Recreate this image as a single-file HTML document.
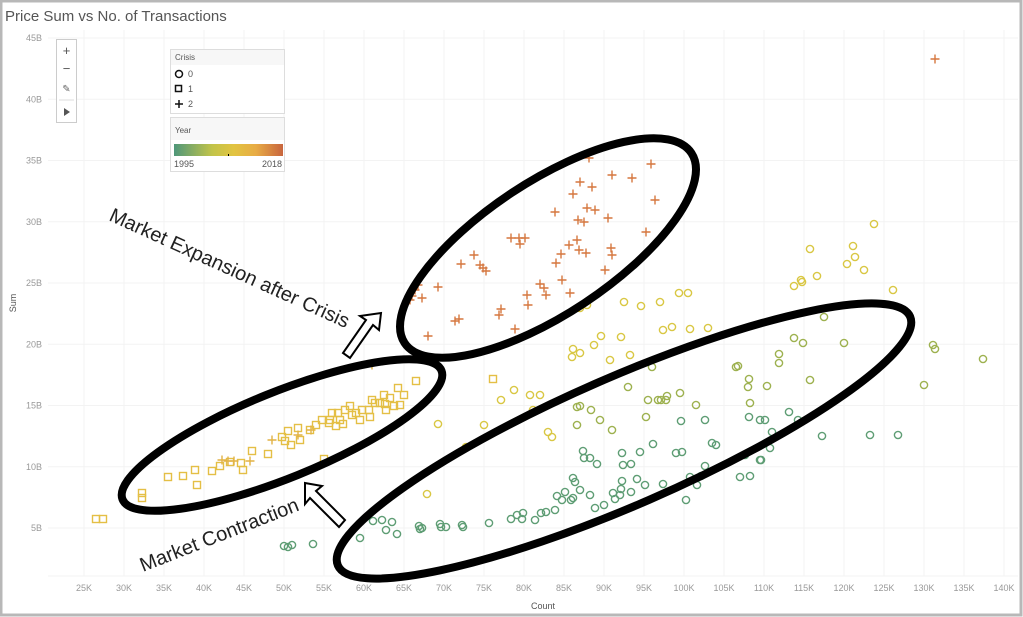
<!DOCTYPE html>
<html><head><meta charset="utf-8"><style>
body{margin:0;width:1023px;height:617px;overflow:hidden;background:#fff;font-family:"Liberation Sans",sans-serif}
</style></head><body>
<svg id="s" width="1023" height="617" xmlns="http://www.w3.org/2000/svg" style="position:absolute;left:0;top:0">
<rect x="1" y="1" width="1020" height="614" fill="#fff" stroke="#b8b8b8" stroke-width="3"/>
<text x="5" y="21" font-size="15" fill="#555">Price Sum vs No. of Transactions</text>
<g id="grid" stroke="#f3f3f3" stroke-width="1"></g>
<g id="ticks" font-size="9" fill="#999"></g>
<text x="543" y="609" font-size="9" fill="#555" text-anchor="middle">Count</text>
<text x="16" y="303" font-size="9" fill="#555" text-anchor="middle" transform="rotate(-90 16 303)">Sum</text>
<g id="pts" fill="none" stroke-width="1.4"></g>
<g fill="none" stroke="#000" stroke-width="8">
<ellipse cx="548" cy="248" rx="172" ry="66" transform="rotate(-33.5 548 248)"/>
<ellipse cx="282" cy="435" rx="172" ry="43" transform="rotate(-22 282 435)"/>
<ellipse cx="624" cy="441" rx="312" ry="64" transform="rotate(-23.5 624 441)"/>
</g>
<g fill="#fff" stroke="#000" stroke-width="2">
<polygon points="381,313 379,330 373,325 350,358 343,353 366,320 360,316"/>
<polygon points="305,483 322,486 316,491 345,520 339,527 310,498 305,504"/>
</g>
<text x="108" y="220" font-size="20" fill="#222" transform="rotate(24.5 108 220)">Market Expansion after Crisis</text>
<text x="143" y="572" font-size="20" fill="#222" transform="rotate(-21.5 143 572)">Market Contraction</text>
<rect x="56.5" y="39.5" width="20" height="83" fill="#fff" stroke="#ccc"/>
<text x="66.5" y="55" font-size="13" fill="#555" text-anchor="middle">+</text>
<text x="66.5" y="73" font-size="13" fill="#555" text-anchor="middle">−</text>
<text x="66.5" y="92" font-size="10" fill="#666" text-anchor="middle">✎</text>
<line x1="59" y1="100" x2="74" y2="100" stroke="#ddd"/>
<polygon points="64,108 64,116 70,112" fill="#555"/>
<rect x="170.5" y="49.5" width="114" height="64" fill="#fff" stroke="#ddd"/>
<rect x="171" y="50" width="113" height="15" fill="#f7f7f7"/>
<text x="175" y="60" font-size="8" fill="#555">Crisis</text>
<circle cx="179" cy="74" r="3.5" fill="none" stroke="#111" stroke-width="1.5"/>
<text x="188" y="77" font-size="9" fill="#555">0</text>
<rect x="175.5" y="85.5" width="6" height="6" fill="none" stroke="#111" stroke-width="1.5"/>
<text x="188" y="92" font-size="9" fill="#555">1</text>
<path d="M175 104h8M179 100v8" stroke="#111" stroke-width="1.5"/>
<text x="188" y="107" font-size="9" fill="#555">2</text>
<rect x="170.5" y="117.5" width="114" height="54" fill="#fff" stroke="#ddd"/>
<rect x="171" y="118" width="113" height="22" fill="#f7f7f7"/>
<text x="175" y="133" font-size="8" fill="#555">Year</text>
<defs><linearGradient id="g"><stop offset="0" stop-color="#4f977a"/><stop offset="0.35" stop-color="#c2c44a"/><stop offset="0.55" stop-color="#e2c441"/><stop offset="0.75" stop-color="#e8ac45"/><stop offset="1" stop-color="#c8653e"/></linearGradient></defs>
<rect x="174" y="144" width="109" height="12" fill="url(#g)"/>
<line x1="228.5" y1="154" x2="228.5" y2="156" stroke="#000"/>
<text x="174" y="167" font-size="9" fill="#555">1995</text>
<text x="282" y="167" font-size="9" fill="#555" text-anchor="end">2018</text>
</svg>
<script>
var NS="http://www.w3.org/2000/svg",s=document.getElementById('s');
function el(p,t,a){var e=document.createElementNS(NS,t);for(var k in a)e.setAttribute(k,a[k]);p.appendChild(e);return e}
var grid=document.getElementById('grid'),ticks=document.getElementById('ticks');
el(grid,'line',{x1:48,y1:576,x2:1018,y2:576});
for(var v=25;v<=140;v+=5){var x=84+(v-25)*8;el(grid,'line',{x1:x,y1:30,x2:x,y2:576});var t=el(ticks,'text',{x:x,y:591,'text-anchor':'middle'});t.textContent=v+'K';}
for(var v=5;v<=45;v+=5){var y=528-(v-5)*12.25;el(grid,'line',{x1:48,y1:y,x2:1018,y2:y});var t=el(ticks,'text',{x:42,y:y+3,'text-anchor':'end'});t.textContent=v+'B';}
var P=document.getElementById('pts');
function circ(l,c){l.forEach(function(p){el(P,'circle',{cx:p[0],cy:p[1],r:3.6,stroke:c})})}
function sq(l,c){l.forEach(function(p){el(P,'rect',{x:p[0]-3.5,y:p[1]-3.5,width:7,height:7,stroke:c})})}
function pl(l,c){l.forEach(function(p){el(P,'path',{d:'M'+(p[0]-4.5)+' '+p[1]+'h9M'+p[0]+' '+(p[1]-4.5)+'v9',stroke:c})})}
circ([[284,546],[288,547],[292,545],[313,544],[360,538],[373,521],[382,520],[386,530],[392,522],[397,534],[419,526],[420,529],[422,528],[440,524],[441,527],[446,527],[462,525],[463,527],[489,523],[511,519],[517,515],[522,519],[523,513],[535,520],[541,513],[546,512],[555,510],[562,500],[571,500],[580,490],[590,495],[595,508],[604,505],[613,493],[621,489],[622,481],[631,492],[637,479],[575,482],[565,492],[573,478],[557,496],[573,498],[645,485],[615,499],[620,495],[663,484],[686,500],[740,477],[760,460],[640,452],[622,453],[653,444],[682,452],[584,458],[583,451],[590,458],[597,464],[623,465],[631,464],[676,453],[690,477],[697,485],[701,476],[705,466],[716,445],[745,455],[750,476],[761,460],[770,448],[822,436],[798,420],[789,412],[760,420],[749,417],[765,420],[705,420],[712,443],[681,421],[772,432],[870,435],[898,435]],'#5e9d74');
circ([[824,317],[794,338],[803,343],[844,343],[933,345],[935,349],[983,359],[924,385],[779,363],[810,380],[779,354],[736,367],[652,367],[738,366],[680,393],[667,396],[696,405],[750,403],[749,379],[748,387],[767,386],[628,387],[577,407],[580,406],[577,425],[648,400],[658,400],[666,400],[661,400],[591,410],[612,430],[600,420],[646,417]],'#9db14f');
circ([[874,224],[810,249],[853,246],[855,257],[847,264],[864,270],[794,286],[801,280],[802,282],[817,276],[893,290],[660,302],[679,293],[688,293],[624,302],[580,308],[587,305],[641,306],[663,330],[601,336],[572,357],[580,353],[594,345],[672,327],[621,337],[708,328],[690,329],[573,349],[438,424],[466,447],[484,425],[501,400],[514,390],[530,395],[533,410],[540,395],[548,432],[552,437],[427,494],[610,360],[630,355]],'#d9c743');
sq([[96,519],[103,519],[142,493],[142,498],[168,477],[183,476],[195,470],[197,485],[212,471],[220,466],[230,462],[241,463],[243,470],[252,451],[268,454],[282,437],[285,441],[288,431],[291,445],[298,428],[300,440],[310,430],[316,425],[322,420],[329,423],[332,413],[336,426],[340,420],[343,424],[345,410],[350,406],[352,415],[356,413],[360,420],[362,410],[369,410],[372,400],[375,403],[380,403],[384,395],[386,410],[390,398],[394,406],[398,388],[400,405],[404,395],[416,381],[493,379],[385,404],[370,417],[330,420],[338,413],[324,459]],'#e4bf45');
pl([[222,460],[228,461],[234,461],[250,461],[272,440],[298,435],[311,430],[372,365]],'#e2b245');
pl([[410,300],[412,296],[415,290],[418,285],[422,298],[428,336],[438,287],[455,321],[459,319],[461,264],[474,255],[480,265],[483,268],[486,271],[499,315],[501,309],[511,238],[515,329],[519,238],[520,244],[525,238],[527,295],[528,305],[540,284],[544,288],[546,295],[555,212],[556,263],[561,254],[562,280],[569,245],[570,293],[573,194],[577,240],[578,220],[579,250],[580,182],[584,222],[586,253],[587,208],[592,187],[595,210],[605,270],[608,218],[611,248],[612,175],[612,255],[632,178],[646,232],[651,164],[655,200],[589,158],[935,59]],'#d5773f');
</script>
</body></html>
